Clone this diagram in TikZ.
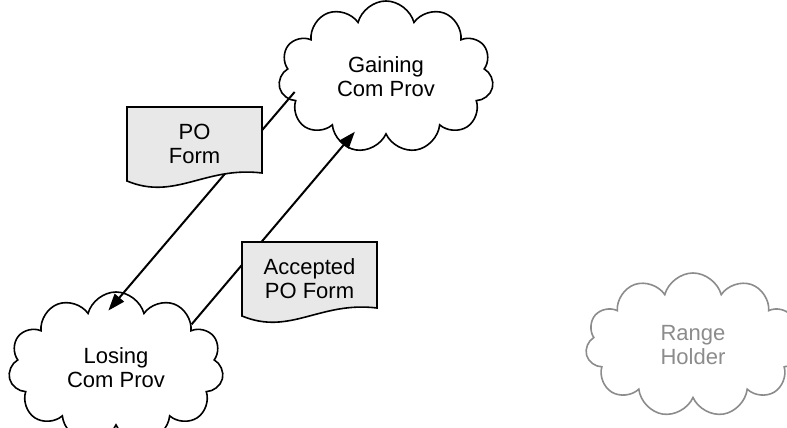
\documentclass[tikz,border=0pt]{standalone}
\usepackage{fontspec}
\setmainfont{Liberation Sans}
\usetikzlibrary{shapes.symbols,arrows.meta}

% paper sheet with a wavy lower edge, #1 = centre coordinate
\newcommand{\docpage}[1]{%
  \filldraw[paper] ([shift={(-67.5,37)}]#1) -- ([shift={(67.5,37)}]#1)
    -- ([shift={(67.5,-29)}]#1)
    .. controls ([shift={(10.5,-22)}]#1) and ([shift={(-19.5,-57)}]#1) .. ([shift={(-67.5,-37)}]#1)
    -- cycle;}

\begin{document}
\begin{tikzpicture}[x=1pt,y=1pt,>={Triangle[length=17pt,width=12pt]},
        party/.style={cloud,cloud puffs=11,cloud ignores aspect,draw,line width=1.6pt,
          fill=white,minimum width=215pt,minimum height=152pt,inner sep=0pt,align=center},
        paper/.style={draw,line width=1.6pt,fill=gray!18},
        flow/.style={->,line width=2pt},
        every node/.style={font=\fontsize{22}{24}\selectfont}]
                \useasboundingbox (0,0) rectangle (787,428);
                \clip (0,0) rectangle (787,428);

                \node[party] (gaining) at (386,351) {Gaining\\Com Prov};
                \node[party] (losing) at (116,60) {Losing\\Com Prov};
                \node[party,minimum height=144pt,draw=black!45,text=black!45] (range) at (693,83) {Range\\Holder};

                \draw[flow,shorten <=-10pt,shorten >=-24pt] (gaining.193) -- (losing.84);
                \draw[flow,shorten >=-18pt] (losing.30) -- (gaining.238);

                \coordinate (po) at (194.5,284);
                \docpage{po}
                \node[align=center] (poform) at (po) {PO\\Form};

                \coordinate (acc) at (309.5,149);
                \docpage{acc}
                \node[align=center] (accform) at (acc) {Accepted\\PO Form};
            \end{tikzpicture}
\end{document}
